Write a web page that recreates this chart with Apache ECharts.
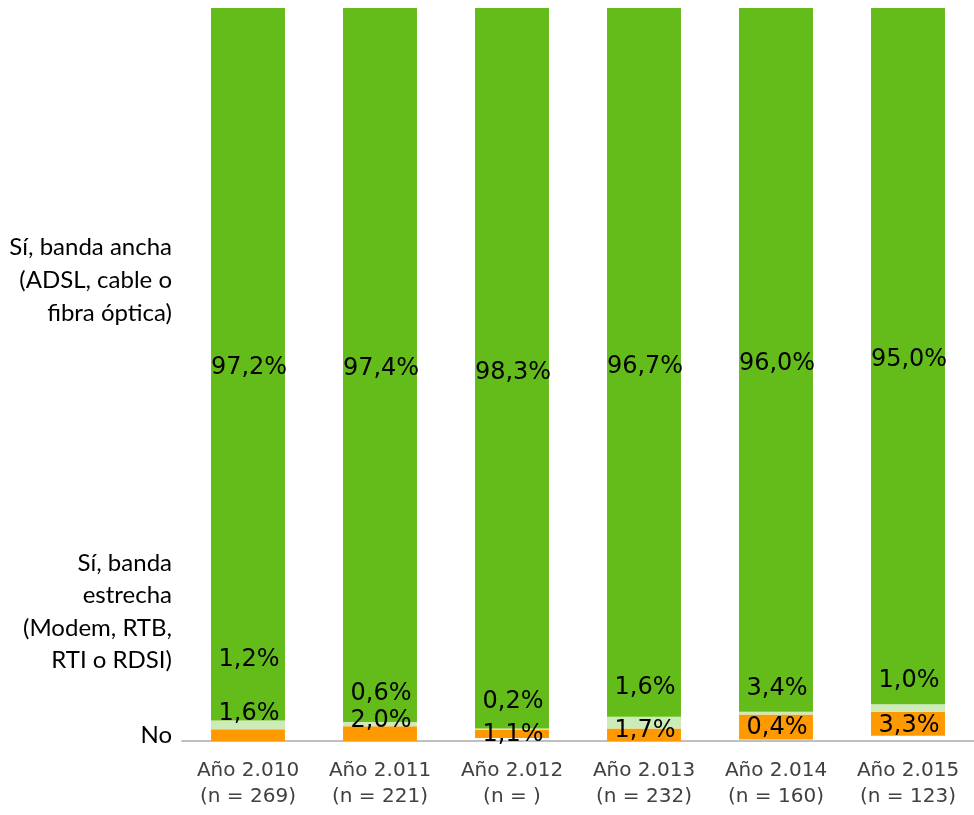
<!DOCTYPE html>
<html>
<head>
<meta charset="utf-8">
<script src="https://cdn.jsdelivr.net/npm/echarts@6/dist/echarts.min.js"></script>
<style>
  html, body { margin: 0; padding: 0; background: #ffffff; }
  #chart { width: 974px; height: 815px; }
</style>
</head>
<body>
<div id="chart"></div>
<script>
// Categories: survey year and sample size
const years = ['Año 2.010', 'Año 2.011', 'Año 2.012', 'Año 2.013', 'Año 2.014', 'Año 2.015'];
const sampleSizes = ['269', '221', '', '232', '160', '123'];

// Share of respondents (%) per answer
const noValues = [1.6, 2.0, 1.1, 1.7, 3.4, 3.3];
const narrowband = [1.2, 0.6, 0.2, 1.6, 0.4, 1.0];
const broadband = [97.2, 97.4, 98.3, 96.7, 96.0, 95.0];

// Answer labels shown on the left
const answerNames = [
  'No',
  'Sí, banda\nestrecha\n(Modem, RTB,\nRTI o RDSI)',
  'Sí, banda ancha\n(ADSL, cable o\nfibra óptica)'
];

// Vertical label shifts (px) for the two thin segments
const noLabelShift = [-21, -13, 1, -4, -38, 2];
const narrowLabelShift = [-65, -30, -28, -35, 15, -27];

// Unanswered remainder sits under the stack, left blank
const unanswered = years.map((_, i) =>
  Math.max(0, +(100 - noValues[i] - narrowband[i] - broadband[i]).toFixed(1)));

const pct = v => v.toFixed(1).replace('.', ',') + '%';
const labelFont = { fontFamily: 'DejaVu Sans', fontSize: 24, color: '#000000' };
const sideFont = '24px Lato';

function withShift(values, shifts) {
  return values.map((v, i) => ({ value: v, label: { offset: [1, shifts[i]] } }));
}

const chart = echarts.init(document.getElementById('chart'), null, { renderer: 'canvas' });

chart.setOption({
  animation: false,
  backgroundColor: '#ffffff',
  grid: { left: 182, right: -8, top: 8, bottom: 74, containLabel: false },
  xAxis: {
    type: 'category',
    data: years.map((y, i) => y + '\n(n = ' + sampleSizes[i] + ')'),
    axisLine: { lineStyle: { color: '#bfbfbf', width: 2 } },
    axisTick: { inside: true, length: 8, lineStyle: { color: '#bfbfbf', width: 2 } },
    axisLabel: {
      interval: 0,
      margin: 17,
      fontFamily: 'DejaVu Sans',
      fontSize: 20,
      lineHeight: 26,
      color: '#404040'
    }
  },
  yAxis: {
    type: 'value',
    min: 0,
    max: 100,
    show: false,
    splitLine: { show: false }
  },
  series: [
    {
      name: 'blank',
      type: 'bar',
      stack: 'total',
      barWidth: '56%',
      silent: true,
      itemStyle: { color: 'rgba(0,0,0,0)' },
      data: unanswered
    },
    {
      name: answerNames[0],
      type: 'bar',
      stack: 'total',
      barWidth: '56%',
      itemStyle: { color: '#ff9900' },
      label: Object.assign({ show: true, position: 'inside', formatter: p => pct(p.value) }, labelFont),
      data: withShift(noValues, noLabelShift)
    },
    {
      name: answerNames[1],
      type: 'bar',
      stack: 'total',
      barWidth: '56%',
      itemStyle: { color: '#cdebb9' },
      label: Object.assign({ show: true, position: 'inside', formatter: p => pct(p.value) }, labelFont),
      data: withShift(narrowband, narrowLabelShift)
    },
    {
      name: answerNames[2],
      type: 'bar',
      stack: 'total',
      barWidth: '56%',
      itemStyle: { color: '#64bc1b' },
      label: Object.assign({ show: true, position: 'inside', offset: [1, 4], formatter: p => pct(p.value) }, labelFont),
      data: broadband
    }
  ],
  graphic: [
    {
      type: 'text', x: 172, y: 280,
      style: { text: answerNames[2], font: sideFont, fill: '#000000', align: 'right', verticalAlign: 'middle', lineHeight: 33 }
    },
    {
      type: 'text', x: 172, y: 612,
      style: { text: answerNames[1], font: sideFont, fill: '#000000', align: 'right', verticalAlign: 'middle', lineHeight: 32.5 }
    },
    {
      type: 'text', x: 172, y: 735,
      style: { text: answerNames[0], font: sideFont, fill: '#000000', align: 'right', verticalAlign: 'middle', lineHeight: 32.5 }
    }
  ]
});
</script>
</body>
</html>
